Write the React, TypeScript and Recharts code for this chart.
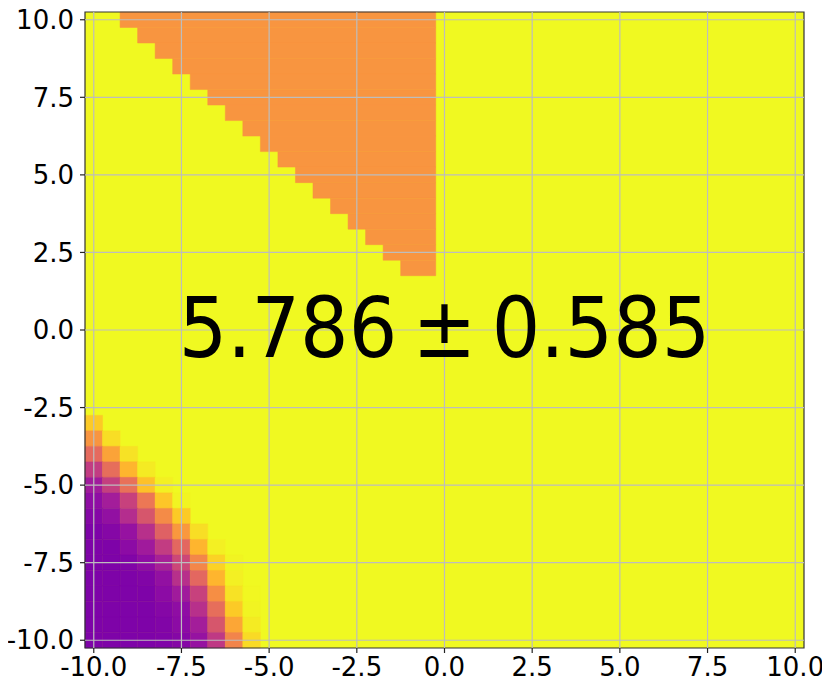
import React from "react";
import {
  ScatterChart,
  Scatter,
  XAxis,
  YAxis,
  ReferenceArea,
  ReferenceLine,
  ReferenceDot,
  Label,
} from "recharts";

// ---------- data ----------
const xTicks = [-10, -7.5, -5, -2.5, 0, 2.5, 5, 7.5, 10];
const yTicks = [-10, -7.5, -5, -2.5, 0, 2.5, 5, 7.5, 10];

// whole field value (plasma scale 0..1)
const backgroundValue = 1.0;

// orange wedge (top-left): one row per y, first and last cell x
const orangeValue = 0.75;
const orangeRowY = [10, 9.5, 9, 8.5, 8, 7.5, 7, 6.5, 6, 5.5, 5, 4.5, 4, 3.5, 3, 2.5, 2];
const orangeRowFirstX = [-9, -8.5, -8, -7.5, -7, -6.5, -6, -5.5, -5, -4.5, -4, -3.5, -3, -2.5, -2, -1.5, -1];
const orangeRowLastX = [-0.5, -0.5, -0.5, -0.5, -0.5, -0.5, -0.5, -0.5, -0.5, -0.5, -0.5, -0.5, -0.5, -0.5, -0.5, -0.5, -0.5];

// bottom-left gradient: rows by y, values for cells starting at x = -10 (step 0.5)
const gradientFirstX = -10;
const gradientRowY = [-3, -3.5, -4, -4.5, -5, -5.5, -6, -6.5, -7, -7.5, -8, -8.5, -9, -9.5, -10];
const gradientRows = [
  [0.89],
  [0.75, 0.94],
  [0.62, 0.79, 0.95],
  [0.46, 0.63, 0.84, 0.97],
  [0.35, 0.47, 0.64, 0.87, 0.98],
  [0.3, 0.36, 0.48, 0.66, 0.88, 0.99],
  [0.27, 0.31, 0.41, 0.55, 0.72, 0.89],
  [0.25, 0.27, 0.32, 0.42, 0.59, 0.76, 0.94],
  [0.25, 0.25, 0.29, 0.35, 0.46, 0.61, 0.84, 0.98],
  [0.25, 0.25, 0.26, 0.3, 0.37, 0.5, 0.71, 0.91, 0.99],
  [0.25, 0.25, 0.25, 0.26, 0.31, 0.42, 0.61, 0.84, 0.98],
  [0.25, 0.25, 0.25, 0.25, 0.29, 0.35, 0.48, 0.73, 0.95, 0.995],
  [0.25, 0.25, 0.25, 0.25, 0.27, 0.3, 0.42, 0.63, 0.89, 0.99],
  [0.25, 0.25, 0.25, 0.25, 0.26, 0.29, 0.36, 0.55, 0.8, 0.97],
  [0.25, 0.25, 0.25, 0.25, 0.255, 0.27, 0.32, 0.45, 0.7, 0.93],
];

const annotationPoint = [{ x: 0, y: 0 }];
const annotationMean = "5.786";
const annotationSign = "±";
const annotationError = "0.585";

// ---------- styling ----------
const cellStep = 0.5;
const half = cellStep / 2;
const domain: [number, number] = [-10.25, 10.25];
const FONT = "DejaVu Sans";

const plasmaStops: [number, string][] = [
  [0.0, "#0d0887"],
  [0.1, "#41049d"],
  [0.2, "#6a00a8"],
  [0.25, "#7e03a8"],
  [0.3, "#8f0da4"],
  [0.35, "#a01a9c"],
  [0.4, "#b12a90"],
  [0.45, "#bf3984"],
  [0.5, "#cc4778"],
  [0.55, "#d6566c"],
  [0.6, "#e16462"],
  [0.65, "#ea7457"],
  [0.7, "#f2844b"],
  [0.75, "#f89540"],
  [0.8, "#fca636"],
  [0.85, "#feb92c"],
  [0.9, "#fcce25"],
  [0.95, "#f7e225"],
  [1.0, "#f0f921"],
];

const hexToRgb = (h: string) => [
  parseInt(h.slice(1, 3), 16),
  parseInt(h.slice(3, 5), 16),
  parseInt(h.slice(5, 7), 16),
];

const plasma = (t: number) => {
  const v = Math.max(0, Math.min(1, t));
  for (let i = 1; i < plasmaStops.length; i++) {
    const [t1, c1] = plasmaStops[i];
    const [t0, c0] = plasmaStops[i - 1];
    if (v <= t1) {
      const f = (v - t0) / (t1 - t0);
      const a = hexToRgb(c0);
      const b = hexToRgb(c1);
      const m = a.map((x, k) => Math.round(x + (b[k] - x) * f));
      return `rgb(${m[0]},${m[1]},${m[2]})`;
    }
  }
  return plasmaStops[plasmaStops.length - 1][1];
};

const fmt = (v: number) => v.toFixed(1);

const AnnotationText = (props: any) => {
  const vb = props.viewBox || {};
  const cx = (vb.x ?? 0) + (vb.width ?? 0) / 2;
  const cy = (vb.y ?? 0) + (vb.height ?? 0) / 2;
  return (
    <g transform={`translate(${cx},${cy}) scale(0.92,1)`}>
      <text
        x={0}
        y={0}
        dy="0.33em"
        textAnchor="middle"
        fontSize={83}
        fontFamily={FONT}
        fill="#000"
      >
        <tspan>{annotationMean}</tspan>
        <tspan dx="0.2em">{annotationSign}</tspan>
        <tspan dx="0.2em">{annotationError}</tspan>
      </text>
    </g>
  );
};

export default function App() {
  const gradientCells: { x: number; y: number; v: number }[] = [];
  gradientRows.forEach((row, ri) => {
    row.forEach((v, ci) => {
      gradientCells.push({ x: gradientFirstX + ci * cellStep, y: gradientRowY[ri], v });
    });
  });

  const tickStyle = { fontSize: 26, fill: "#000", fontFamily: FONT };
  const bg = plasma(backgroundValue);
  const orange = plasma(orangeValue);

  return (
    <div style={{ margin: "-8px 0 0 -8px", width: 830, height: 690 }}>
      <ScatterChart
        width={830}
        height={690}
        margin={{ top: 12, right: 26, bottom: 4, left: 0 }}
      >
        <XAxis
          type="number"
          dataKey="x"
          domain={domain}
          ticks={xTicks}
          allowDataOverflow
          interval={0}
          tickFormatter={fmt}
          axisLine={false}
          tickLine={{ stroke: "#222", strokeWidth: 1.2 }}
          tickSize={5}
          tickMargin={5}
          height={38}
          tick={tickStyle}
        />
        <YAxis
          type="number"
          dataKey="y"
          domain={domain}
          ticks={yTicks}
          allowDataOverflow
          interval={0}
          tickFormatter={fmt}
          axisLine={false}
          tickLine={{ stroke: "#222", strokeWidth: 1.2 }}
          tickSize={5}
          tickMargin={6}
          width={85}
          tick={tickStyle}
        />
        <ReferenceArea
          x1={domain[0]}
          x2={domain[1]}
          y1={domain[0]}
          y2={domain[1]}
          fill={bg}
          fillOpacity={1}
          stroke="none"
        />
        {orangeRowY.map((y, i) => (
          <ReferenceArea
            key={`o${i}`}
            x1={orangeRowFirstX[i] - half}
            x2={orangeRowLastX[i] + half}
            y1={y - half}
            y2={y + half}
            fill={orange}
            fillOpacity={1}
            stroke={orange}
            strokeWidth={0.5}
          />
        ))}
        {gradientCells.map((c, i) => (
          <ReferenceArea
            key={`g${i}`}
            x1={c.x - half}
            x2={c.x + half}
            y1={c.y - half}
            y2={c.y + half}
            fill={plasma(c.v)}
            fillOpacity={1}
            stroke={plasma(c.v)}
            strokeWidth={0.5}
          />
        ))}
        {xTicks.map((t) => (
          <ReferenceLine key={`vx${t}`} x={t} stroke="#bdbdbd" strokeWidth={1.2} />
        ))}
        {yTicks.map((t) => (
          <ReferenceLine key={`hy${t}`} y={t} stroke="#bdbdbd" strokeWidth={1.2} />
        ))}
        <ReferenceArea
          x1={domain[0]}
          x2={domain[1]}
          y1={domain[0]}
          y2={domain[1]}
          fill="none"
          stroke="#333"
          strokeWidth={1.2}
        />
        <Scatter data={annotationPoint} isAnimationActive={false} shape={() => <g />} />
        <ReferenceDot
          x={annotationPoint[0].x}
          y={annotationPoint[0].y}
          r={1}
          fill="none"
          stroke="none"
        >
          <Label content={AnnotationText} />
        </ReferenceDot>
      </ScatterChart>
    </div>
  );
}
